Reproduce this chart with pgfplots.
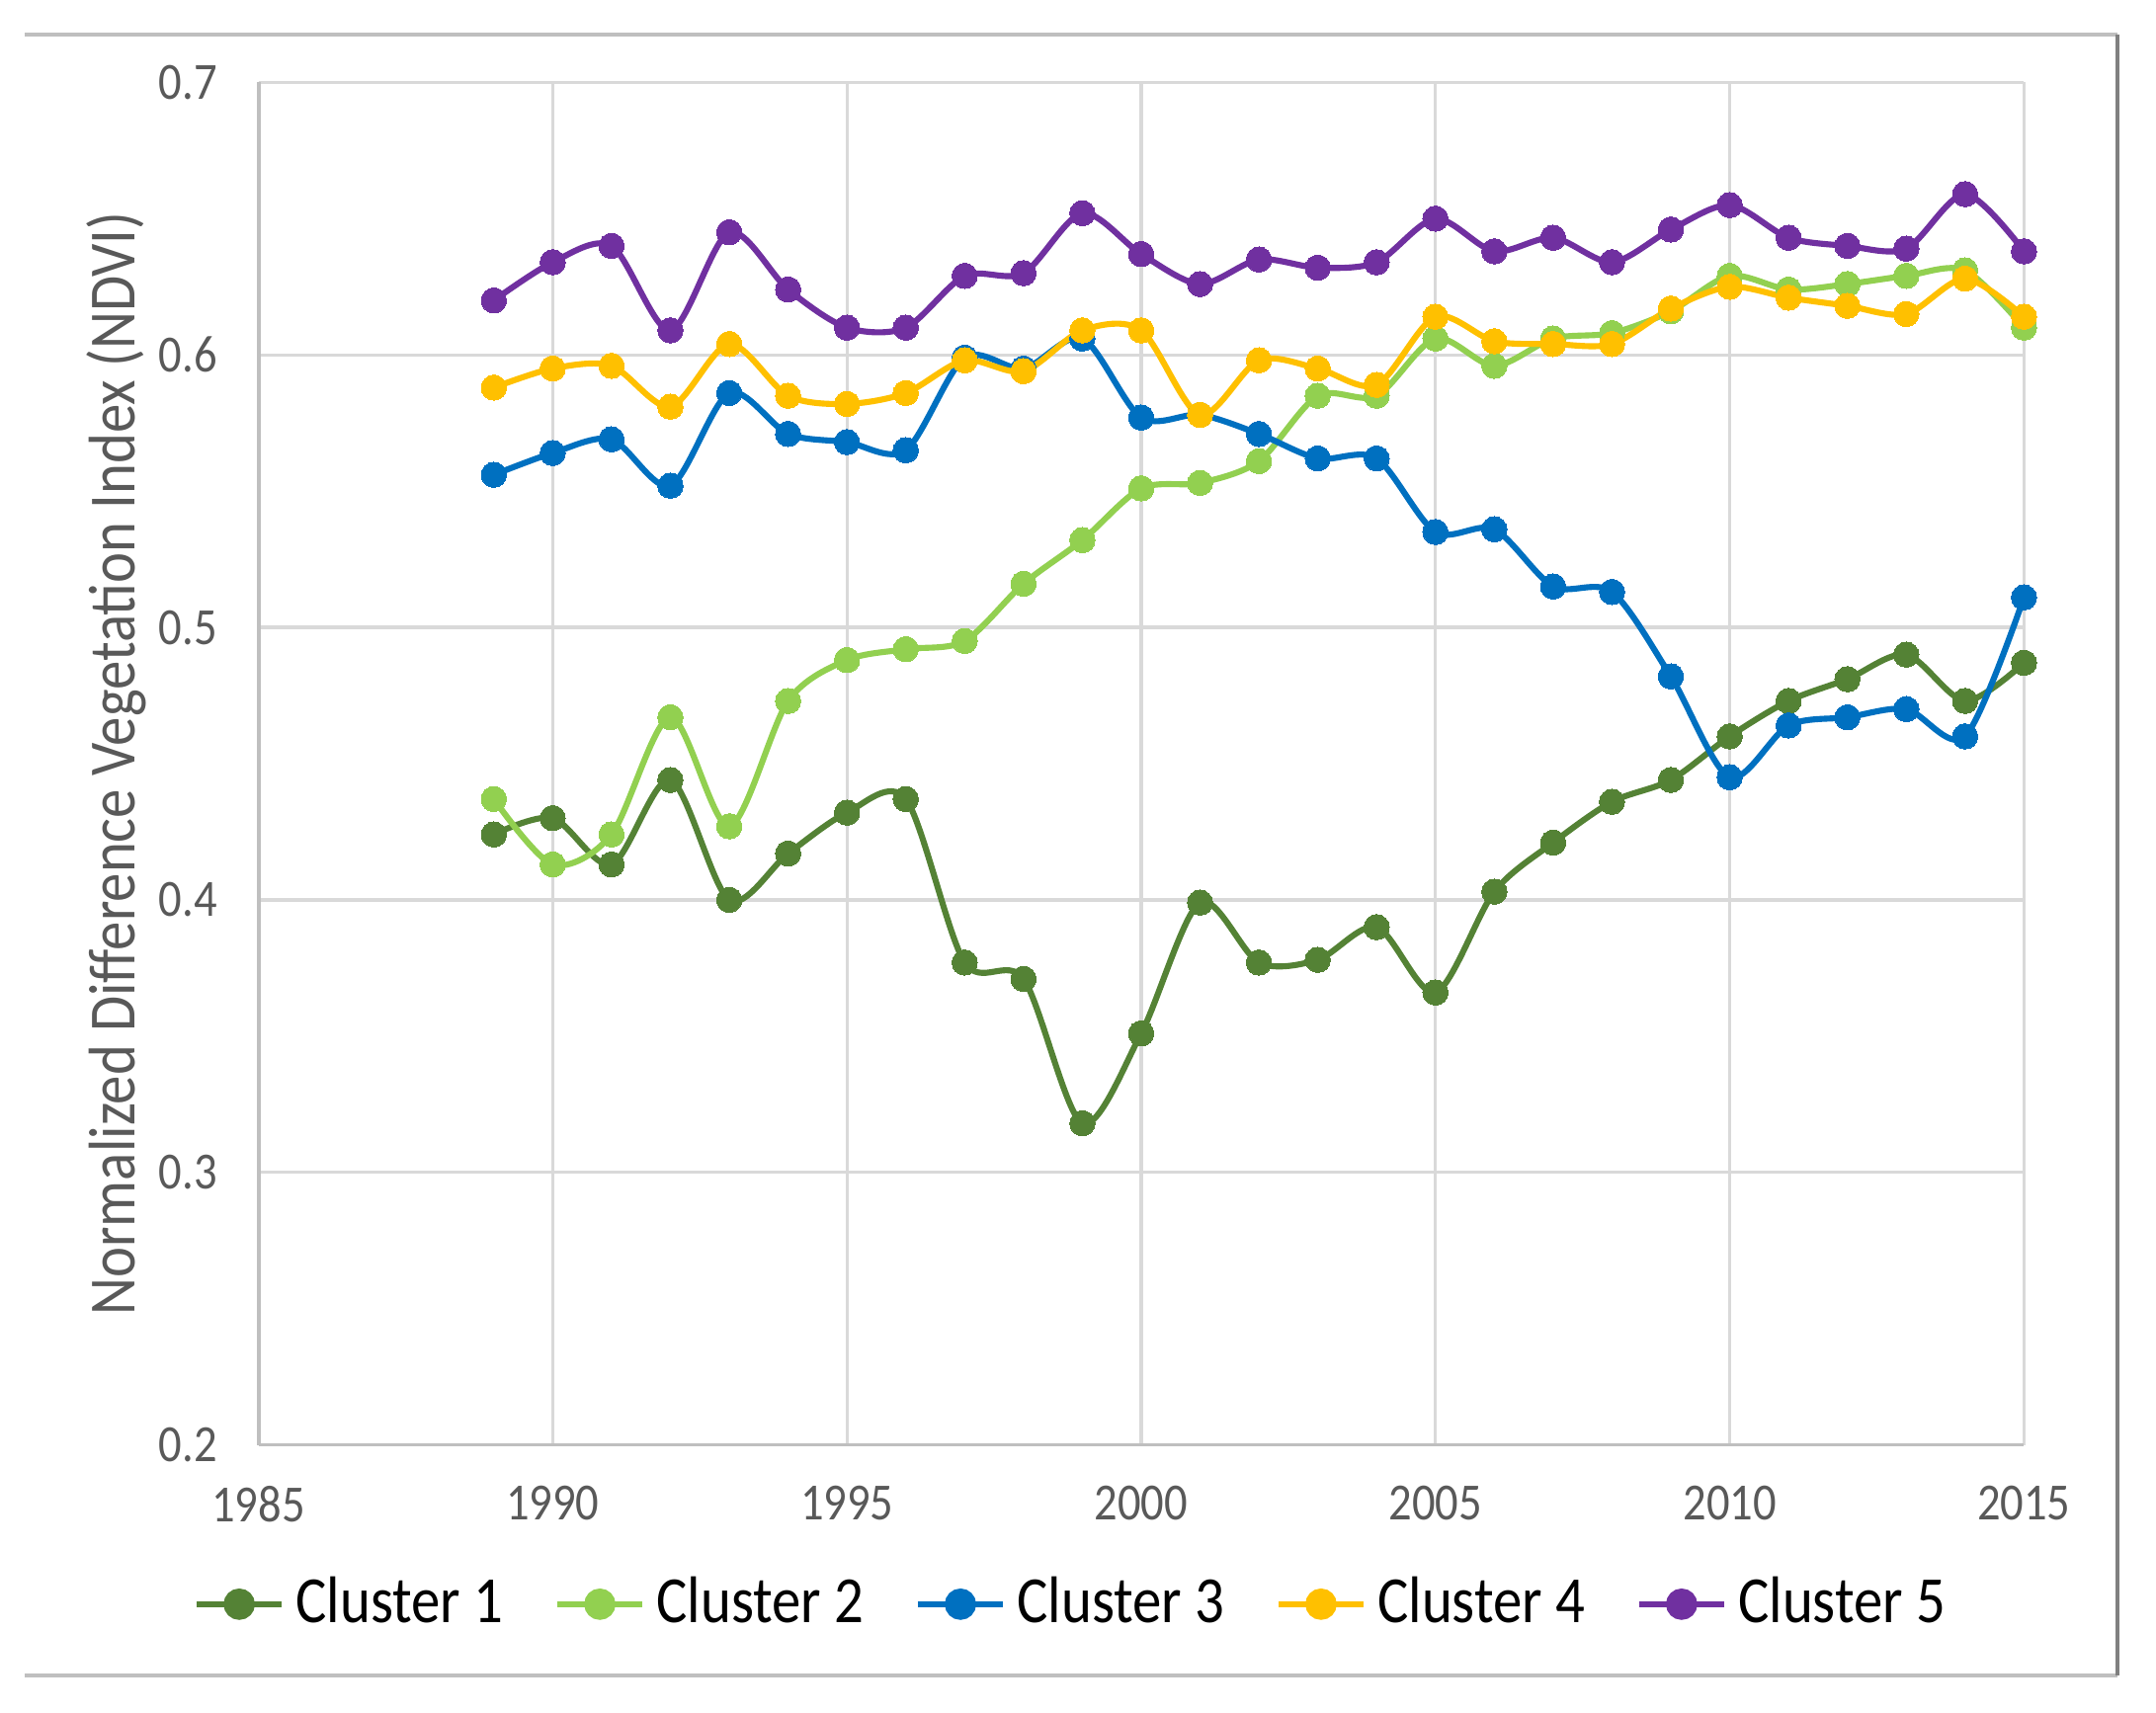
\documentclass[border=0pt]{standalone}
\usepackage{pgfplots}
\pgfplotsset{compat=1.18}
\usepackage{fontspec}
\setmainfont{Carlito}[FakeStretch=0.88]
\definecolor{cA}{HTML}{548235}
\definecolor{cB}{HTML}{92D050}
\definecolor{cC}{HTML}{0070C0}
\definecolor{cD}{HTML}{FFC000}
\definecolor{cE}{HTML}{7030A0}
\definecolor{txtgray}{HTML}{595959}
\definecolor{gridgray}{HTML}{D9D9D9}
\definecolor{axgray}{HTML}{BFBFBF}
\pgfplotsset{
  ser/.style={color=#1, line width=1.1pt, smooth, tension=0.5, mark=*, mark size=2.3pt, mark options={fill=#1, draw=#1, line width=0pt}},
}
\begin{document}
\begin{tikzpicture}
\begin{axis}[
  width=321pt, height=247.75pt, scale only axis,
  xmin=1985, xmax=2015, ymin=0.2, ymax=0.7,
  xtick={1985,1990,...,2015}, ytick={0.2,0.3,...,0.7},
  yticklabels={0.2,0.3,0.4,0.5,0.6,0.7},
  xticklabel style={/pgf/number format/1000 sep={}},
  /pgf/number format/assume math mode=true,
  x tick label style={font=\fontsize{9.5}{11}\selectfont, text=txtgray, yshift=-4pt},
  y tick label style={font=\fontsize{9.5}{11}\selectfont, text=txtgray, xshift=-4pt},
  major tick length=0pt,
  grid=major, major grid style={gridgray, line width=0.6pt},
  axis x line*=bottom, axis y line*=left,
  axis line style={axgray, line width=0.7pt, -},
  ylabel={Normalized Difference Vegetation Index (NDVI)},
  ylabel style={font=\fontsize{12}{14}\selectfont, text=txtgray, at={(rel axis cs:-0.0802,0.5)}, anchor=center},
  legend columns=5,
  legend style={draw=none, fill=none, at={(rel axis cs:0.4626,-0.117)}, anchor=center,
    font=\fontsize{12}{14}\selectfont, text=black,
    /tikz/every even column/.append style={column sep=7.25pt},
    inner sep=0pt},
  legend image code/.code={
    \draw[line width=1.1pt] (1.75pt,0pt) -- (17.25pt,0pt);
    \fill (9.5pt,0pt) circle (2.3pt);
  },
  clip=false,
]
\addplot[ser=cA] coordinates {
(1989,0.424)(1990,0.430)(1991,0.413)(1992,0.444)(1993,0.400)(1994,0.417)(1995,0.432)(1996,0.437)(1997,0.377)(1998,0.371)(1999,0.318)(2000,0.351)(2001,0.399)(2002,0.377)(2003,0.378)(2004,0.390)(2005,0.366)(2006,0.403)(2007,0.421)(2008,0.436)(2009,0.444)(2010,0.460)(2011,0.473)(2012,0.481)(2013,0.490)(2014,0.473)(2015,0.487)};
\addlegendentry{Cluster 1}
\addplot[ser=cB] coordinates {
(1989,0.437)(1990,0.413)(1991,0.424)(1992,0.467)(1993,0.427)(1994,0.473)(1995,0.488)(1996,0.492)(1997,0.495)(1998,0.516)(1999,0.532)(2000,0.551)(2001,0.553)(2002,0.561)(2003,0.585)(2004,0.585)(2005,0.606)(2006,0.596)(2007,0.606)(2008,0.608)(2009,0.616)(2010,0.629)(2011,0.624)(2012,0.626)(2013,0.629)(2014,0.631)(2015,0.610)};
\addlegendentry{Cluster 2}
\addplot[ser=cC] coordinates {
(1989,0.556)(1990,0.564)(1991,0.569)(1992,0.552)(1993,0.586)(1994,0.571)(1995,0.568)(1996,0.565)(1997,0.599)(1998,0.595)(1999,0.606)(2000,0.577)(2001,0.578)(2002,0.571)(2003,0.562)(2004,0.562)(2005,0.535)(2006,0.536)(2007,0.515)(2008,0.513)(2009,0.482)(2010,0.445)(2011,0.464)(2012,0.467)(2013,0.470)(2014,0.460)(2015,0.511)};
\addlegendentry{Cluster 3}
\addplot[ser=cD] coordinates {
(1989,0.588)(1990,0.595)(1991,0.596)(1992,0.581)(1993,0.604)(1994,0.585)(1995,0.582)(1996,0.586)(1997,0.598)(1998,0.594)(1999,0.609)(2000,0.609)(2001,0.578)(2002,0.598)(2003,0.595)(2004,0.589)(2005,0.614)(2006,0.605)(2007,0.604)(2008,0.604)(2009,0.617)(2010,0.625)(2011,0.621)(2012,0.618)(2013,0.615)(2014,0.628)(2015,0.614)};
\addlegendentry{Cluster 4}
\addplot[ser=cE] coordinates {
(1989,0.620)(1990,0.634)(1991,0.640)(1992,0.609)(1993,0.645)(1994,0.624)(1995,0.610)(1996,0.610)(1997,0.629)(1998,0.630)(1999,0.652)(2000,0.637)(2001,0.626)(2002,0.635)(2003,0.632)(2004,0.634)(2005,0.650)(2006,0.638)(2007,0.643)(2008,0.634)(2009,0.646)(2010,0.655)(2011,0.643)(2012,0.640)(2013,0.639)(2014,0.659)(2015,0.638)};
\addlegendentry{Cluster 5}
\coordinate (bl) at (rel axis cs:-0.1464,-0.1968);
\coordinate (tr) at (rel axis cs:1.0748,1.0605);
\draw[axgray, line width=0.7pt] (rel axis cs:-0.1324,1.0353) -- (rel axis cs:1.0530,1.0353);
\draw[axgray, line width=0.7pt] (rel axis cs:-0.1324,-0.1695) -- (rel axis cs:1.0530,-0.1695);
\draw[gray, line width=0.8pt] (rel axis cs:1.0530,1.0353) -- (rel axis cs:1.0530,-0.1695);
\end{axis}
\pgfresetboundingbox
\path[use as bounding box] (bl) rectangle (tr);
\end{tikzpicture}
\end{document}
